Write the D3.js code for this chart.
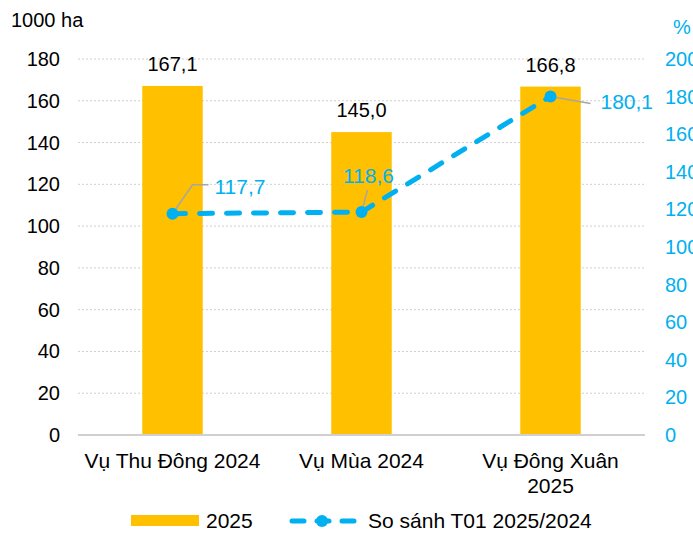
<!DOCTYPE html>
<html>
<head>
<meta charset="utf-8">
<script src="https://cdn.jsdelivr.net/npm/d3@7"></script>
<style>
  body { margin: 0; background: #fff; }
  svg { display: block; font-family: "Liberation Sans", Arial, sans-serif; }
</style>
</head>
<body>
<svg width="693" height="533"></svg>
<script>
// data
const categories = ["Vụ Thu Đông 2024", "Vụ Mùa 2024", "Vụ Đông Xuân 2025"];
const categoryLines = [["Vụ Thu Đông 2024"], ["Vụ Mùa 2024"], ["Vụ Đông Xuân", "2025"]];
const area2025 = [167.1, 145.0, 166.8];
const ratio = [117.7, 118.6, 180.1];
const leftTicks = [0, 20, 40, 60, 80, 100, 120, 140, 160, 180];
const rightTicks = [0, 20, 40, 60, 80, 100, 120, 140, 160, 180, 200];
const barName = "2025";
const lineName = "So sánh T01 2025/2024";

const fmt = (v) => v.toFixed(1).replace(".", ",");

const svg = d3.select("svg");
const plotL = 78, plotR = 645, plotT = 59, plotB = 435;

// scales
const x = d3.scaleBand().domain(categories).range([plotL, plotR]).paddingInner(0.68).paddingOuter(0.34);
const yL = d3.scaleLinear().domain([0, 180]).range([plotB, plotT]);
const yR = d3.scaleLinear().domain([0, 200]).range([plotB, plotT]);
const cx = (i) => x(categories[i]) + x.bandwidth() / 2;

const blue = "#00B0F0";
const gold = "#FFC000";

// grid
svg.append("g")
  .selectAll("line")
  .data(leftTicks.filter((d) => d > 0))
  .enter()
  .append("line")
  .attr("x1", plotL).attr("x2", plotR)
  .attr("y1", (d) => yL(d)).attr("y2", (d) => yL(d))
  .attr("stroke", "#D0D0D0")
  .attr("stroke-width", 1)
  .attr("stroke-dasharray", "2,2");

// left axis labels
svg.append("g")
  .selectAll("text")
  .data(leftTicks)
  .enter()
  .append("text")
  .attr("x", 60)
  .attr("y", (d) => yL(d) + 7)
  .attr("text-anchor", "end")
  .attr("font-size", 20)
  .attr("fill", "#000")
  .text((d) => d);

// right axis labels (clipped by the right edge, as in the source)
svg.append("g")
  .selectAll("text")
  .data(rightTicks)
  .enter()
  .append("text")
  .attr("x", 665)
  .attr("y", (d) => yR(d) + 7)
  .attr("font-size", 20)
  .attr("fill", blue)
  .text((d) => d);

svg.append("text").attr("x", 11).attr("y", 27).attr("font-size", 20).text("1000 ha");
svg.append("text").attr("x", 673).attr("y", 34).attr("font-size", 20).attr("fill", blue).text("%");

// bars
svg.append("g")
  .selectAll("rect")
  .data(area2025)
  .enter()
  .append("rect")
  .attr("x", (d, i) => x(categories[i]))
  .attr("width", x.bandwidth())
  .attr("y", (d) => yL(d))
  .attr("height", (d) => plotB - yL(d))
  .attr("fill", gold);

// baseline
svg.append("line")
  .attr("x1", plotL).attr("x2", plotR)
  .attr("y1", plotB).attr("y2", plotB)
  .attr("stroke", "#D0D0D0")
  .attr("stroke-width", 2);

// bar labels
svg.append("g")
  .selectAll("text")
  .data(area2025)
  .enter()
  .append("text")
  .attr("x", (d, i) => cx(i))
  .attr("y", (d) => yL(d) - 15)
  .attr("text-anchor", "middle")
  .attr("font-size", 20)
  .text((d) => fmt(d));

// category labels
categoryLines.forEach((lines, i) => {
  lines.forEach((t, j) => {
    svg.append("text")
      .attr("x", cx(i))
      .attr("y", 468 + j * 25)
      .attr("text-anchor", "middle")
      .attr("font-size", 21)
      .text(t);
  });
});

// leader lines + line labels
const leaders = [
  { pts: [[0, 0], [20, -29], [36, -29]], lx: 42, ly: -20, anchor: "start" },
  { pts: [[0, 0], [6, -22]], lx: 7, ly: -29, anchor: "middle" },
  { pts: [[0, 0], [40, 7]], lx: 50, ly: 13, anchor: "start" }
];
leaders.forEach((l, i) => {
  const px = cx(i), py = yR(ratio[i]);
  svg.append("path")
    .attr("d", d3.line()(l.pts.map((p) => [px + p[0], py + p[1]])))
    .attr("fill", "none")
    .attr("stroke", "#A6A6A6")
    .attr("stroke-width", 1.5);
});

// line
svg.append("path")
  .datum(ratio)
  .attr("d", d3.line().x((d, i) => cx(i)).y((d) => yR(d)))
  .attr("fill", "none")
  .attr("stroke", blue)
  .attr("stroke-width", 5)
  .attr("stroke-linecap", "round")
  .attr("stroke-dasharray", "13,14");

svg.append("g")
  .selectAll("circle")
  .data(ratio)
  .enter()
  .append("circle")
  .attr("cx", (d, i) => cx(i))
  .attr("cy", (d) => yR(d))
  .attr("r", 6)
  .attr("fill", blue);

leaders.forEach((l, i) => {
  svg.append("text")
    .attr("x", cx(i) + l.lx)
    .attr("y", yR(ratio[i]) + l.ly)
    .attr("text-anchor", l.anchor)
    .attr("font-size", 21)
    .attr("fill", blue)
    .text(fmt(ratio[i]));
});

// legend
const lg = svg.append("g");
lg.append("rect").attr("x", 131).attr("y", 515).attr("width", 68).attr("height", 11).attr("fill", gold);
lg.append("text").attr("x", 206).attr("y", 528).attr("font-size", 21).text(barName);
lg.append("line")
  .attr("x1", 292).attr("x2", 354).attr("y1", 521).attr("y2", 521)
  .attr("stroke", blue).attr("stroke-width", 5)
  .attr("stroke-linecap", "round").attr("stroke-dasharray", "12,13");
lg.append("circle").attr("cx", 322).attr("cy", 521).attr("r", 6).attr("fill", blue);
lg.append("text").attr("x", 368).attr("y", 528).attr("font-size", 21).text(lineName);
</script>
</body>
</html>
